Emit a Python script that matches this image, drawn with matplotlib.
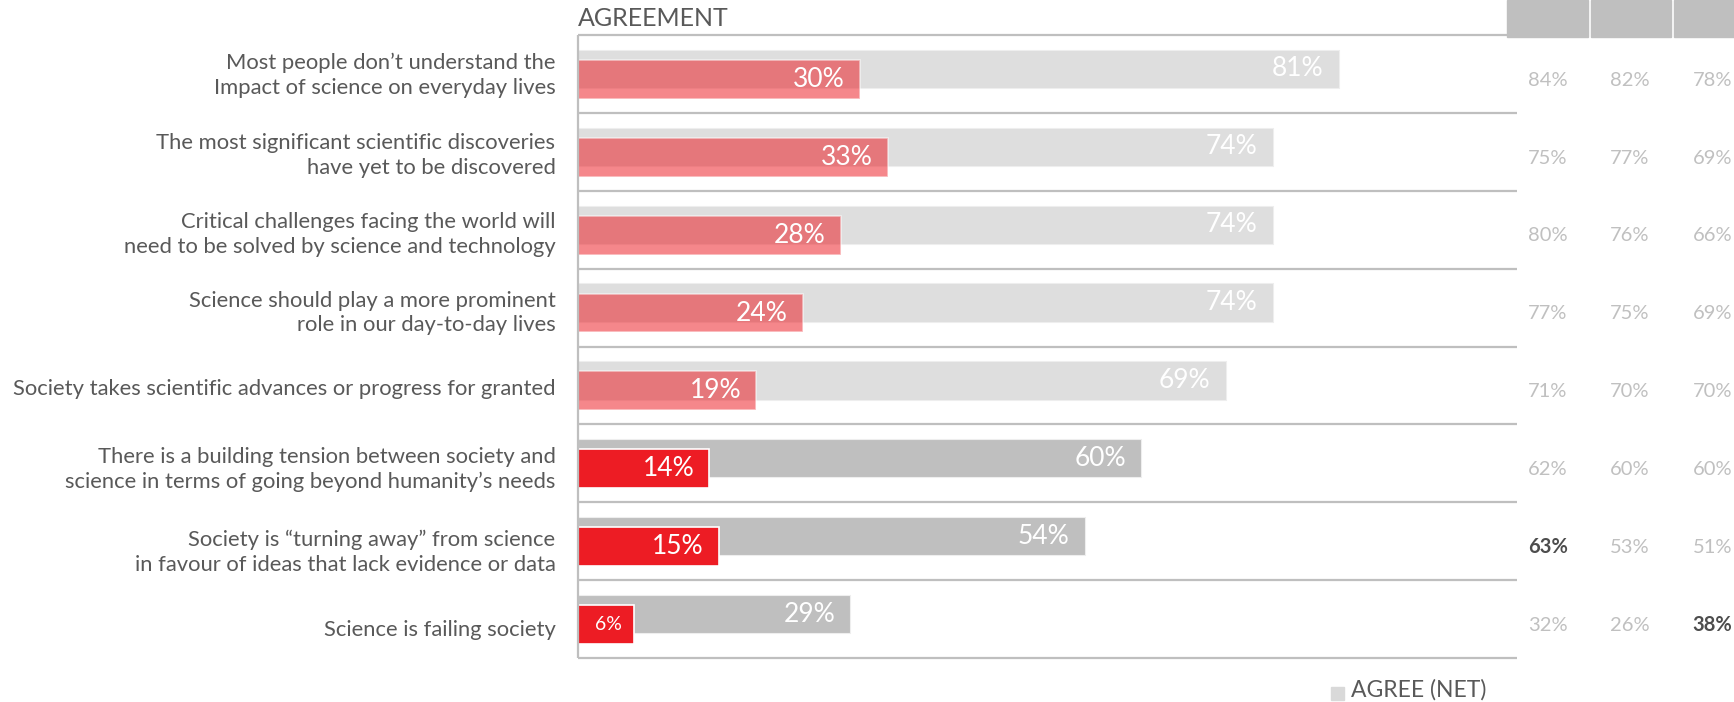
import matplotlib
matplotlib.use("Agg")
import matplotlib.pyplot as plt
from matplotlib.patches import Rectangle

plt.rcParams['font.family'] = ['Lato', 'DejaVu Sans']

statements = [
    "Most people don\u2019t understand the\nImpact of science on everyday lives",
    "The most significant scientific discoveries\nhave yet to be discovered",
    "Critical challenges facing the world will\nneed to be solved by science and technology",
    "Science should play a more prominent\nrole in our day-to-day lives",
    "Society takes scientific advances or progress for granted",
    "There is a building tension between society and\nscience in terms of going beyond humanity\u2019s needs",
    "Society is \u201cturning away\u201d from science\nin favour of ideas that lack evidence or data",
    "Science is failing society",
]
agree_net = [81, 74, 74, 74, 69, 60, 54, 29]
strongly_agree = [30, 33, 28, 24, 19, 14, 15, 6]
col1 = [84, 75, 80, 77, 71, 62, 63, 32]
col2 = [82, 77, 76, 75, 70, 60, 53, 26]
col3 = [78, 69, 66, 69, 70, 60, 51, 38]
# cells that stand out from the rest (bold)
col1_bold = [False, False, False, False, False, False, True, False]
col2_bold = [False] * 8
col3_bold = [False, False, False, False, False, False, False, True]

W, H = 1734, 702
fig = plt.figure(figsize=(W / 100, H / 100), dpi=100)
ax = fig.add_axes([578 / W, 1 - 658 / H, (1517 - 578) / W, (658 - 35) / H])
ax.set_xlim(0, 100)
ax.set_ylim(8, 0)
ax.axis('off')

TXT = '#595959'
LINE = '#BFBFBF'
RED = '#ED1C24'

n = len(statements)
label_pos = [0.52, 0.55, 0.56, 0.57, 0.55, 0.58, 0.64, 0.64]
for i in range(n):
    highlighted = i >= 5
    gray = '#BFBFBF' if highlighted else '#DEDEDE'
    ax.barh(i + 0.436, agree_net[i], height=0.49, color=gray,
            edgecolor='#EEEEEE', linewidth=0.8, zorder=2)
    if highlighted:
        ax.barh(i + 0.57, strongly_agree[i], height=0.5, color=RED,
                edgecolor='white', linewidth=1.2, zorder=3)
    else:
        ax.barh(i + 0.57, strongly_agree[i], height=0.5, color=RED, alpha=0.53,
                edgecolor='white', linewidth=1.2, zorder=3)
    ax.annotate(f"{agree_net[i]}%", (agree_net[i], i + 0.436), xytext=(-11, 0),
                textcoords='offset points', ha='right', va='center',
                color='white', fontsize=19, zorder=4)
    small = strongly_agree[i] < 10
    ax.annotate(f"{strongly_agree[i]}%", (strongly_agree[i], i + 0.57),
                xytext=(-9 if small else -11, 0), textcoords='offset points',
                ha='right', va='center', color='white',
                fontsize=14 if small else 19, zorder=4)

    ax.text(-2.4, i + label_pos[i], statements[i], ha='right', va='center',
            color=TXT, fontsize=15.8, linespacing=1.3)

    for x, vals, bold in ((103.3, col1, col1_bold), (112.0, col2, col2_bold),
                          (120.8, col3, col3_bold)):
        ax.text(x, i + 0.58, f"{vals[i]}%", ha='center', va='center',
                fontsize=14.5, color='#4D4D4D' if bold[i] else '#C0C0C0',
                fontweight='bold' if bold[i] else 'normal', clip_on=False)

# row separators and left border
for b in range(1, n + 1):
    ax.plot([0, 100], [b, b], color=LINE, lw=1.6, clip_on=False, zorder=1,
            solid_capstyle='butt')
ax.plot([0, 98.9], [0, 0], color=LINE, lw=1.6, clip_on=False, zorder=1,
        solid_capstyle='butt')
ax.plot([0, 0], [0, n], color=LINE, lw=1.6, clip_on=False, zorder=5,
        solid_capstyle='butt')

# header boxes above the comparison columns
for x0, x1 in ((1507, 1588), (1591, 1671), (1674, 1734)):
    fig.patches.append(Rectangle((x0 / W, 1 - 37 / H), (x1 - x0) / W, 37 / H,
                                 transform=fig.transFigure, color='#BFBFBF'))

fig.text(578 / W, 1 - 19 / H, "AGREEMENT", ha='left', va='center',
         color=TXT, fontsize=18)

fig.patches.append(Rectangle((1331 / W, 1 - 700 / H), 13 / W, 13 / H,
                             transform=fig.transFigure, color='#D9D9D9'))
fig.text(1351 / W, 1 - 690 / H, "AGREE (NET)", ha='left', va='center',
         color=TXT, fontsize=16.5)

fig.savefig('out.png', dpi=100)
